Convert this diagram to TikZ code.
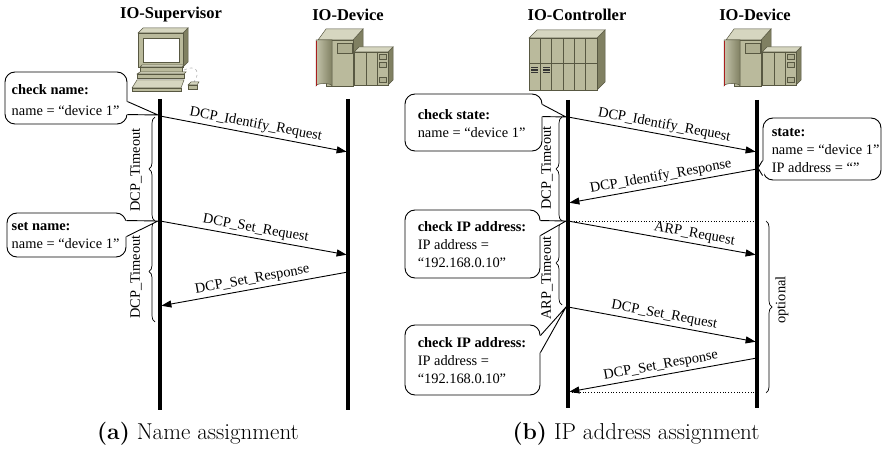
\documentclass[tikz,border=0pt]{standalone}
\usepackage{fontspec}
\newfontfamily\tnr{Liberation Serif}
\usetikzlibrary{arrows.meta,decorations.pathreplacing,calc}

\definecolor{hwface}{RGB}{186,186,156}
\definecolor{hwside}{RGB}{128,128,98}
\definecolor{hwtop}{RGB}{214,214,192}
\definecolor{hwline}{RGB}{88,88,66}
\definecolor{hwred}{RGB}{170,30,30}

\newcommand\diagfont{\tnr\fontsize{14.4}{18}\selectfont}
\newcommand\headfont{\tnr\bfseries\fontsize{16.5}{19}\selectfont}

% tail of a callout: base point, tip, base point, inward shift
\newcommand\calltail[4]{%
  \fill[white] ($(#1)+(#4,0)$) -- (#1) -- (#2) -- (#3) -- ($(#3)+(#4,0)$) -- cycle;
  \draw[callline] (#1) -- (#2) -- (#3);}

% IO-Device: tower with round spine and a small module rack
\newcommand\devicepic[1]{%
\begin{scope}[shift={(#1,0)}, draw=hwline, line width=0.5pt]
  \filldraw[fill=hwside] (353,40) -- (363,29) -- (363,76) -- (353,86) -- cycle;
  \filldraw[fill=hwtop] (318,40) -- (326,29) -- (363,29) -- (353,40) -- cycle;
  \filldraw[fill=hwface] (326,40) rectangle (353,86);
  \shade[left color=hwface!85!white, right color=hwside, draw=hwline]
    (316,40) -- (316,86) arc[start angle=180, end angle=360, x radius=8, y radius=2.5]
    -- (332,40) -- cycle;
  \draw[hwred, line width=1pt] (316.6,41) -- (316.6,86);
  \filldraw[fill=hwface!80!hwside] (337,43) rectangle (352,53);
  \filldraw[fill=hwside] (388,52) -- (393,47) -- (393,80) -- (388,85) -- cycle;
  \filldraw[fill=hwtop] (354,52) -- (359,47) -- (393,47) -- (388,52) -- cycle;
  \filldraw[fill=hwface] (354,52) rectangle (388,85);
  \draw (366,52) -- (366,85) (377,52) -- (377,85);
  \filldraw[fill=hwface!80!hwside] (379,54) rectangle (386,59);
  \filldraw[fill=hwface!80!hwside] (379,62) rectangle (386,67);
  \filldraw[fill=hwface!80!hwside] (379,77) rectangle (386,82);
\end{scope}}

\begin{document}
\begin{tikzpicture}[x=1pt, y=-1pt,
  lifeline/.style={line width=3.2pt},
  msg/.style={line width=0.9pt, -{Triangle[length=10pt,width=7pt]}, shorten >=1.4pt},
  msglabel/.style={font=\diagfont, sloped, above, inner sep=2.5pt},
  dotline/.style={line width=0.8pt, dotted},
  callline/.style={line width=0.9pt},
  callbox/.style={draw, line width=0.9pt, rounded corners=10pt, fill=white, inner sep=0pt},
  calltext/.style={anchor=west, align=left, font=\diagfont, inner sep=0pt},
  timebrace/.style={decorate, decoration={brace, amplitude=6pt}, line width=0.7pt},
  bracelabel/.style={font=\diagfont, rotate=90, inner sep=0pt},
  header/.style={font=\headfont},
  caption/.style={font=\fontsize{23}{27}\selectfont}]
\useasboundingbox (0,0) rectangle (884,454);

% ---------- headers ----------
\node[header] (hsup) at (171,15) {IO-Supervisor};
\node[header] (hdev1) at (348,15) {IO-Device};
\node[header] (hctl) at (577,15) {IO-Controller};
\node[header] (hdev2) at (755,15) {IO-Device};

% ---------- computer ----------
\begin{scope}[draw=hwline, line width=0.5pt]
  \filldraw[fill=hwside] (183,33) -- (188,28) -- (188,62) -- (183,67) -- cycle;
  \filldraw[fill=hwtop] (138,33) -- (143,28) -- (188,28) -- (183,33) -- cycle;
  \filldraw[fill=hwface] (138,33) rectangle (183,67);
  \filldraw[fill=white] (143,38) rectangle (179,62);
  \filldraw[fill=hwtop] (140,67) -- (142,65) -- (184,65) -- (182,67) -- cycle;
  \filldraw[fill=hwface] (140,67) rectangle (182,72);
  \filldraw[fill=hwtop] (137,74) -- (140,72) -- (186,72) -- (184,74) -- cycle;
  \filldraw[fill=hwface] (137,74) rectangle (184,78);
  \filldraw[fill=hwtop] (132,88) -- (137,80) -- (184,80) -- (181,88) -- cycle;
  \filldraw[fill=hwface] (132,88) rectangle (181,91);
  \draw[gray!60, line width=0.6pt, dashed] (184,70) .. controls (196,64) and (201,72) .. (194,82);
  \filldraw[fill=hwtop] (188,85) -- (191,82) -- (199,82) -- (197,85) -- cycle;
  \filldraw[fill=hwface] (188,85) rectangle (197,89);
\end{scope}

% ---------- IO-Devices ----------
\devicepic{0}
\devicepic{408}

% ---------- IO-Controller ----------
\begin{scope}[draw=hwline, line width=0.5pt]
  \filldraw[fill=hwside] (597,38) -- (605,30) -- (605,82) -- (597,90) -- cycle;
  \filldraw[fill=hwtop] (529,38) -- (537,30) -- (605,30) -- (597,38) -- cycle;
  \filldraw[fill=hwface] (529,38) rectangle (597,90);
  \foreach \k in {1,...,5} \draw ({529+\k*68/6},38) -- ({529+\k*68/6},90);
  \draw (529,63) -- (597,63);
  \foreach \cx in {531,542.5} \foreach \cy in {67,69.5,72}
    \fill[black!80] (\cx,\cy) rectangle ({\cx+7},{\cy+1.4});
\end{scope}

% ---------- lifelines ----------
\coordinate (supT) at (160,99);   \coordinate (supB) at (160,410);
\coordinate (dvaT) at (348,99);   \coordinate (dvaB) at (348,410);
\coordinate (ctlT) at (568,100);  \coordinate (ctlB) at (568,408);
\coordinate (dvbT) at (757,100);  \coordinate (dvbB) at (757,408);
\foreach \a/\b in {supT/supB, dvaT/dvaB, ctlT/ctlB, dvbT/dvbB}
  \draw[lifeline] (\a) -- (\b);

% ---------- (a) name assignment ----------
\coordinate (s1) at (160,116); \coordinate (d1) at (348,152);
\coordinate (s2) at (160,221); \coordinate (d2) at (348,255);
\coordinate (d3) at (348,272); \coordinate (s3) at (160,306);
\draw[msg] (s1) -- node[msglabel] {DCP\_Identify\_Request} (d1);
\draw[msg] (s2) -- node[msglabel] {DCP\_Set\_Request} (d2);
\draw[msg] (d3) -- node[msglabel] {DCP\_Set\_Response} (s3);

\coordinate (ba1) at (155,221); \coordinate (ba0) at (155,117);
\coordinate (ba2) at (155,322);
\draw[timebrace] (ba1) -- (ba0);
\draw[timebrace] (ba2) -- (ba1);
\node[bracelabel] (lt1) at (136,170) {DCP\_Timeout};
\node[bracelabel] (lt2) at (136,277) {DCP\_Timeout};

\node[callbox, minimum width=122pt, minimum height=52pt] (cn) at (66,98) {};
\calltail{$(cn.north east)+(0,30)$}{158,115}{$(cn.north east)+(0,43)$}{-1.5}
\node[calltext] (cnt) at ($(cn.west)+(7,2)$) {\textbf{check name:}\\[3pt] name = “device 1”};

\node[callbox, minimum width=119pt, minimum height=44pt] (sn) at (66.5,235) {};
\calltail{$(sn.north east)+(0,8)$}{158,221}{$(sn.north east)+(0,24)$}{-1.5}
\node[calltext] (snt) at ($(sn.west)+(5,1)$) {\textbf{set name:}\\ name = “device 1”};

% ---------- (b) IP address assignment ----------
\coordinate (c1) at (568,117); \coordinate (e1) at (757,152);
\coordinate (e2) at (757,169); \coordinate (c2) at (568,203);
\coordinate (c3) at (568,221); \coordinate (e3) at (757,255);
\coordinate (c4) at (568,307); \coordinate (e4) at (757,342);
\coordinate (e5) at (757,358); \coordinate (c5) at (568,392);
\coordinate (e6) at (757,392);
\draw[msg] (c1) -- node[msglabel] {DCP\_Identify\_Request} (e1);
\draw[msg] (e2) -- node[msglabel] {DCP\_Identify\_Response} (c2);
\draw[msg] (c3) -- node[msglabel, pos=0.66] {ARP\_Request} (e3);
\draw[msg] (c4) -- node[msglabel] {DCP\_Set\_Request} (e4);
\draw[msg] (e5) -- node[msglabel] {DCP\_Set\_Response} (c5);
\draw[dotline] (c3) -- (e3 |- c3);
\draw[dotline] (e6) -- ($(c5)+(4,0)$);

\coordinate (bb0) at (562,117); \coordinate (bb1) at (562,221);
\coordinate (bb2) at (562,305);
\draw[timebrace] (bb1) -- (bb0);
\draw[timebrace] (bb2) -- (bb1);
\node[bracelabel] (lt3) at (547,168) {DCP\_Timeout};
\node[bracelabel] (lt4) at (547,278) {ARP\_Timeout};

\coordinate (ob0) at (766,221); \coordinate (ob1) at (766,393);
\draw[timebrace] (ob0) -- (ob1);
\node[bracelabel] (opt) at (782,300) {optional};

\node[callbox, minimum width=137pt, minimum height=57pt] (cs) at (473.5,122.5) {};
\calltail{$(cs.north east)+(0,11)$}{566,117}{$(cs.north east)+(0,23)$}{-1.5}
\node[calltext] (cst) at ($(cs.west)+(13,1)$) {\textbf{check state:}\\ name = “device 1”};

\node[callbox, minimum width=135pt, minimum height=68pt] (ip1) at (472.5,244) {};
\calltail{$(ip1.north east)+(0,11)$}{566,221}{$(ip1.north east)+(0,26)$}{-1.5}
\node[calltext] (ip1t) at ($(ip1.west)+(13,1)$) {\textbf{check IP address:}\\ IP address =\\ “192.168.0.10”};

\node[callbox, minimum width=135pt, minimum height=70pt] (ip2) at (472.5,360) {};
\calltail{$(ip2.north east)+(0,11)$}{566,307}{$(ip2.north east)+(0,28)$}{-1.5}
\node[calltext] (ip2t) at ($(ip2.west)+(13,1)$) {\textbf{check IP address:}\\ IP address =\\ “192.168.0.10”};

\node[callbox, minimum width=118pt, minimum height=62pt] (st) at (822,149) {};
\calltail{$(st.north west)+(0,43)$}{758,168}{$(st.north west)+(0,58)$}{1.5}
\node[calltext] (stt) at ($(st.west)+(9,2)$) {\textbf{state:}\\ name = “device 1”\\ IP address = “”};

% ---------- captions ----------
\node[caption] (capa) at (198,434) {\textbf{(a)} Name assignment};
\node[caption] (capb) at (636,434) {\textbf{(b)} IP address assignment};
\end{tikzpicture}
\end{document}
